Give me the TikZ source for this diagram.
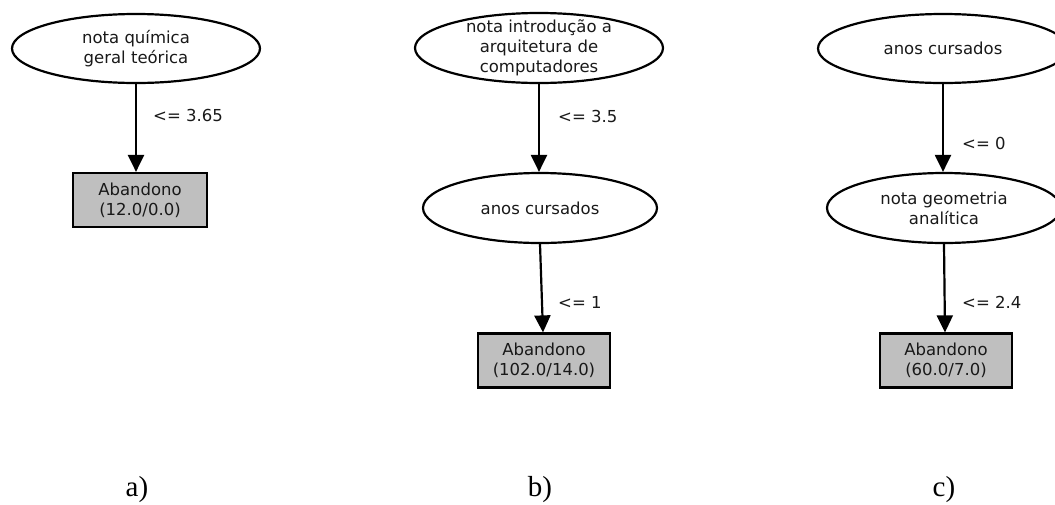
\documentclass[tikz,border=0pt]{standalone}
\usepackage{fontspec}
\setmainfont{DejaVu Sans}
\newfontfamily\capfont{Liberation Serif}
\usetikzlibrary{shapes.geometric,arrows.meta}
\tikzset{
  ell/.style={ellipse, draw=black, line width=2.2pt, inner sep=0pt},
  leaf/.style={rectangle, draw=black, line width=2.2pt, fill=black!25, inner sep=0pt,
    minimum height=54pt, align=center, font=\fontsize{16.5}{20}\selectfont, text=black!90},
  txt/.style={align=center, font=\fontsize{16.5}{20}\selectfont, text=black!90},
  elab/.style={anchor=west, inner sep=0pt, font=\fontsize{16.5}{20}\selectfont, text=black!90},
  conn/.style={line width=2.2pt, -{Triangle[length=17pt,width=16pt]}},
  captext/.style={anchor=base, inner sep=0pt, font=\capfont\fontsize{29}{32}\selectfont}
}
\begin{document}
\begin{tikzpicture}[x=1pt,y=-1pt]
\useasboundingbox (0,0) rectangle (1055,504);
\begin{scope}
\clip (0,0) rectangle (1055,504);
% panel a
\node[ell, minimum width=248pt, minimum height=69pt,
  label={[txt]center:nota química\\geral teórica}] (a1) at (136,48.5) {};
\node[leaf, minimum width=134pt] (a2) at (140,200) {Abandono\\(12.0/0.0)};
\draw[conn] (a1.south) -- (a1.south |- a2.north);
\node[elab] (la1) at (153,115) {<= 3.65};
% panel b
\node[ell, minimum width=248pt, minimum height=70pt,
  label={[txt]center:nota introdução a\\arquitetura de\\computadores}] (b1) at (539,48) {};
\node[ell, minimum width=234pt, minimum height=70pt,
  label={[txt]center:anos cursados}] (b2) at (540,208) {};
\node[leaf, minimum width=132pt] (b3) at (544,360.5) {Abandono\\(102.0/14.0)};
\draw[conn] (b1.south) -- (b1.south |- b2.north);
\draw[conn] (b2.south) -- ([xshift=-1pt]b3.north);
\node[elab] (lb1) at (558,116) {<= 3.5};
\node[elab] (lb2) at (558,302) {<= 1};
% panel c
\node[ell, minimum width=250pt, minimum height=69pt,
  label={[txt]center:anos cursados}] (c1) at (943,48.5) {};
\node[ell, minimum width=234pt, minimum height=70pt,
  label={[txt]center:nota geometria\\analítica}] (c2) at (944,208) {};
\node[leaf, minimum width=132pt] (c3) at (946,360.5) {Abandono\\(60.0/7.0)};
\draw[conn] (c1.south) -- (c1.south |- c2.north);
\draw[conn] (c2.south) -- ([xshift=1pt]c2.south |- c3.north);
\node[elab] (lc1) at (962,143) {<= 0};
\node[elab] (lc2) at (962,302) {<= 2.4};
\end{scope}
% captions
\node[captext] (capa) at (137,496) {a)};
\node[captext] (capb) at (540,496) {b)};
\node[captext] (capc) at (944,496) {c)};
\end{tikzpicture}
\end{document}
